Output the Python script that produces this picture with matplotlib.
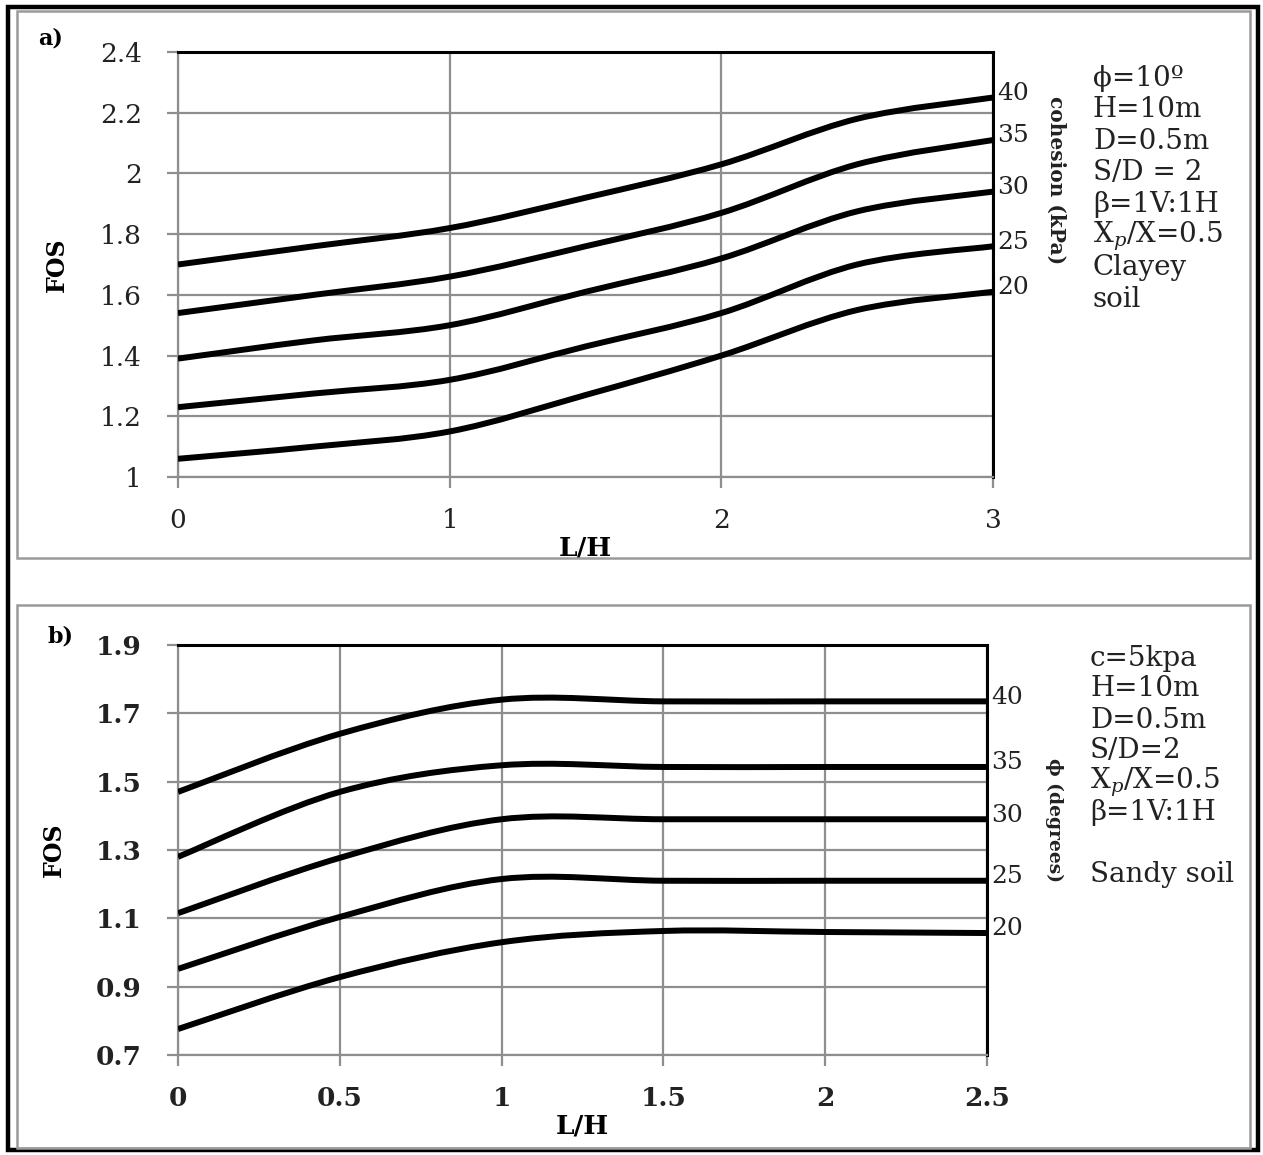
"""FOS vs L/H for clayey (a) and sandy (b) soil, two stacked panels."""

import matplotlib
matplotlib.use("Agg")
import matplotlib.pyplot as plt
from matplotlib.path import Path
from matplotlib.patches import PathPatch, Rectangle

plt.rcParams["font.family"] = ["DejaVu Serif"]
plt.rcParams["mathtext.fontset"] = "dejavuserif"

# ---- data, panel a (cohesion in kPa) ----
lh_a = [0, 0.5, 1, 1.5, 2, 2.5, 3]
cohesion = [40, 35, 30, 25, 20]
fos_c40 = [1.70, 1.76, 1.82, 1.92, 2.03, 2.18, 2.25]
fos_c35 = [1.54, 1.60, 1.66, 1.76, 1.87, 2.03, 2.11]
fos_c30 = [1.39, 1.45, 1.50, 1.61, 1.72, 1.875, 1.94]
fos_c25 = [1.23, 1.275, 1.32, 1.43, 1.54, 1.70, 1.76]
fos_c20 = [1.06, 1.10, 1.15, 1.27, 1.40, 1.55, 1.61]
params_a = ["ϕ=10º", "H=10m", "D=0.5m", "S/D = 2", "β=1V:1H", "X$_p$/X=0.5", "Clayey", "soil"]

# ---- data, panel b (friction angle in degrees) ----
lh_b = [0, 0.5, 1, 1.5, 2, 2.5]
phi = [40, 35, 30, 25, 20]
fos_p40 = [1.47, 1.64, 1.74, 1.735, 1.735, 1.735]
fos_p35 = [1.28, 1.47, 1.548, 1.543, 1.543, 1.543]
fos_p30 = [1.115, 1.277, 1.39, 1.39, 1.39, 1.39]
fos_p25 = [0.952, 1.104, 1.215, 1.21, 1.21, 1.21]
fos_p20 = [0.776, 0.928, 1.03, 1.063, 1.06, 1.057]
params_b = ["c=5kpa", "H=10m", "D=0.5m", "S/D=2", "X$_p$/X=0.5", "β=1V:1H", "", "Sandy soil"]

GRID = "#8e8e8e"
TXT = "#222222"


def smooth_path(x, y):
    """Excel-like smoothed line: cubic Bezier through every point."""
    n = len(x)
    verts = [(x[0], y[0])]
    codes = [Path.MOVETO]
    for i in range(n - 1):
        x0, y0 = (x[i - 1], y[i - 1]) if i > 0 else (x[i], y[i])
        x3, y3 = (x[i + 2], y[i + 2]) if i + 2 < n else (x[i + 1], y[i + 1])
        c1 = (x[i] + (x[i + 1] - x0) / 6, y[i] + (y[i + 1] - y0) / 6)
        c2 = (x[i + 1] - (x3 - x[i]) / 6, y[i + 1] - (y3 - y[i]) / 6)
        verts += [c1, c2, (x[i + 1], y[i + 1])]
        codes += [Path.CURVE4] * 3
    return Path(verts, codes)


def style_axes(ax, xticks, yticks, tick_weight):
    ax.set_xlim(xticks[0], xticks[-1])
    ax.set_ylim(yticks[0], yticks[-1])
    ax.set_xticks(xticks)
    ax.set_yticks(yticks)
    ax.set_xticklabels([f"{t:g}" for t in xticks], fontsize=19, fontweight=tick_weight)
    ax.set_yticklabels([f"{t:g}" for t in yticks], fontsize=19, fontweight=tick_weight)
    ax.grid(True, color=GRID, linewidth=1.6)
    ax.set_axisbelow(True)
    for side in ("left", "bottom"):
        ax.spines[side].set_color(GRID)
        ax.spines[side].set_linewidth(1.6)
    for side in ("top", "right"):
        ax.spines[side].set_color("black")
        ax.spines[side].set_linewidth(2.2)
    ax.tick_params(axis="both", direction="out", length=8, width=1.6, color=GRID,
                   labelcolor=TXT)
    ax.tick_params(axis="y", pad=18)
    ax.tick_params(axis="x", pad=14)


def draw_curves(ax, x, series, labels):
    for ys, lab in zip(series, labels):
        ax.add_patch(PathPatch(smooth_path(x, ys), fill=False, edgecolor="black",
                               linewidth=4.3, capstyle="butt", zorder=3))
        ax.annotate(str(lab), (x[-1], ys[-1]), xytext=(3, 3), textcoords="offset points",
                    ha="left", va="center", fontsize=18, color=TXT,
                    annotation_clip=False)


fig = plt.figure(figsize=(12.63, 11.55), dpi=100)

# frames: outer black border and grey panel borders
fig.patches.append(Rectangle((8 / 1263, 1 - 1150 / 1155), 1250 / 1263, 1143 / 1155,
                             transform=fig.transFigure, fill=False, edgecolor="black",
                             linewidth=3.2))
for top, bottom in ((11, 558), (605, 1148)):
    fig.patches.append(Rectangle((17 / 1263, 1 - bottom / 1155), 1233 / 1263,
                                 (bottom - top) / 1155, transform=fig.transFigure,
                                 fill=False, edgecolor="#9a9a9a", linewidth=1.8))

# ---- panel a ----
ax_a = fig.add_axes([178 / 1263, 1 - 477 / 1155, 815 / 1263, 425 / 1155])
style_axes(ax_a, [0, 1, 2, 3], [1, 1.2, 1.4, 1.6, 1.8, 2.0, 2.2, 2.4], "normal")
draw_curves(ax_a, lh_a, [fos_c40, fos_c35, fos_c30, fos_c25, fos_c20], cohesion)
ax_a.set_xlabel("L/H", fontsize=19, fontweight="bold", labelpad=2)
ax_a.set_ylabel("FOS", fontsize=17, fontweight="bold", labelpad=22)
fig.text(1056 / 1263, 1 - 180 / 1155, "cohesion (kPa)", rotation=-90, fontsize=14.5,
         fontweight="bold", ha="center", va="center", color=TXT)
fig.text(38 / 1263, 1 - 38 / 1155, "a)", fontsize=16, fontweight="bold",
         ha="left", va="center")
for i, line in enumerate(params_a):
    fig.text(1093 / 1263, 1 - (78 + 31.6 * i) / 1155, line, fontsize=20,
             ha="left", va="center", color=TXT)

# ---- panel b ----
ax_b = fig.add_axes([178 / 1263, 1 - 1055 / 1155, 809 / 1263, 410 / 1155])
style_axes(ax_b, [0, 0.5, 1, 1.5, 2, 2.5], [0.7, 0.9, 1.1, 1.3, 1.5, 1.7, 1.9], "bold")
draw_curves(ax_b, lh_b, [fos_p40, fos_p35, fos_p30, fos_p25, fos_p20], phi)
ax_b.set_xlabel("L/H", fontsize=19, fontweight="bold", labelpad=2)
ax_b.set_ylabel("FOS", fontsize=17, fontweight="bold", labelpad=22)
fig.text(1054 / 1263, 1 - 820 / 1155, "ϕ (degrees)", rotation=-90, fontsize=13.5,
         fontweight="bold", ha="center", va="center", color=TXT)
fig.text(48 / 1263, 1 - 637 / 1155, "b)", fontsize=16, fontweight="bold",
         ha="left", va="center")
for i, line in enumerate(params_b):
    fig.text(1090 / 1263, 1 - (658 + 31 * i) / 1155, line, fontsize=20,
             ha="left", va="center", color=TXT)

fig.savefig("out.png", dpi=100)
